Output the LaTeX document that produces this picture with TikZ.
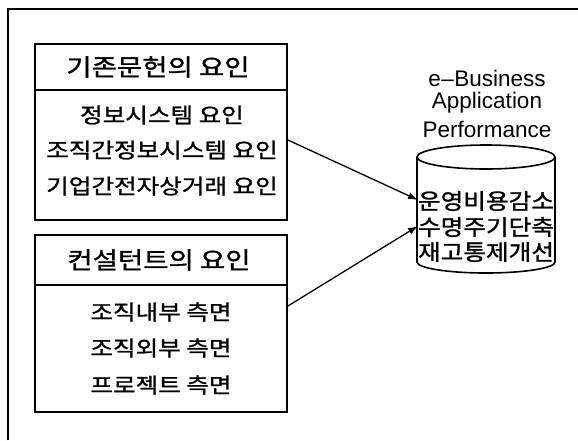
\documentclass[tikz,border=0pt]{standalone}
\usepackage{fontspec}
\setmainfont{Liberation Sans}
\newfontfamily\kr[FakeStretch=1.17, FakeBold=1.2]{Noto Sans CJK KR}
\newfontfamily\krc[FakeStretch=1.12, FakeBold=1.2]{Noto Sans CJK KR}
\usetikzlibrary{arrows.meta}
\begin{document}
\begin{tikzpicture}[x=1pt,y=-1pt,
  frame/.style={line width=1.6pt},
  boxstyle/.style={draw, line width=1.8pt, inner sep=0pt},
  divline/.style={line width=1.2pt},
  hdr/.style={font=\kr\fontsize{23.5}{23.5}\selectfont, inner sep=0pt},
  row/.style={font=\kr\fontsize{21}{21}\selectfont, inner sep=0pt},
  eng/.style={font=\fontsize{22.5}{22.5}\selectfont, inner sep=0pt},
  cyltext/.style={font=\krc\fontsize{22}{22}\selectfont, inner sep=0pt},
  cylline/.style={line width=1.6pt},
  arr/.style={line width=1.3pt, -{Latex[length=10pt,width=7pt]}}]
\useasboundingbox (0,0) rectangle (578,440);
\draw[frame] (8,440) -- (8,9) -- (578,9);
% box 1
\node[boxstyle, minimum width=252pt, minimum height=176pt] (b1) at (161,132) {};
\draw[divline] (35,90) -- (287,90);
\node[hdr] (h1) at (158,67) {기존문헌의 요인};
\node[row] (r11) at (162,115) {정보시스템 요인};
\node[row] (r12) at (162,150) {조직간정보시스템 요인};
\node[row] (r13) at (162,186) {기업간전자상거래 요인};
% box 2
\node[boxstyle, minimum width=252pt, minimum height=177pt] (b2) at (161,323.5) {};
\draw[divline] (35,285) -- (287,285);
\node[hdr] (h2) at (159,260) {컨설턴트의 요인};
\node[row] (r21) at (161,312) {조직내부 측면};
\node[row] (r22) at (161,348) {조직외부 측면};
\node[row] (r23) at (161,385) {프로젝트 측면};
% title
\node[eng] (t1) at (487,78) {e{\kern0.5pt}–{\kern0.5pt}Business};
\node[eng] (t2) at (487,103) {Application};
\node[eng] (t3) at (487,129) {Performance};
% cylinder
\draw[cylline] (486,157) ellipse [x radius=69, y radius=12];
\draw[cylline] (417,157) -- (417,262) arc[start angle=180, end angle=0, x radius=69, y radius=11] -- (555,157);
\node[cyltext] (c1) at (486,201) {운영비용감소};
\node[cyltext] (c2) at (486,227) {수명주기단축};
\node[cyltext] (c3) at (486,252) {재고통제개선};
\coordinate (a1) at (418,200);
\coordinate (a2) at (418,226);
\draw[arr] (b1.east |- 0,140) -- (a1);
\draw[arr] (b2.east |- 0,306) -- (a2);
\end{tikzpicture}
\end{document}
